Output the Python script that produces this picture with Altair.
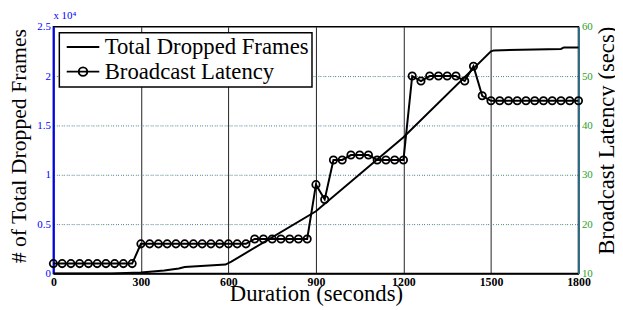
import altair as alt
import pandas as pd

# ---- data ----
frames_t = [0, 200, 300, 380, 430, 450, 590, 610, 900, 1200, 1500, 1510, 1740, 1750, 1800]
frames_v = [0, 0, 100, 300, 500, 650, 900, 1200, 6300, 13800, 22500, 22600, 22750, 22900, 22900]

lat_t = list(range(0, 1801, 30))
lat_v = ([12] * 10 + [16] * 13 + [17] * 7 +
         [28, 25, 33, 33, 34, 34, 34, 33, 33, 33, 33, 50, 49, 50, 50, 50, 50, 49, 52, 46] +
         [45] * 11)

series = ["Total Dropped Frames", "Broadcast Latency"]
x_ticks = [0, 300, 600, 900, 1200, 1500, 1800]
left_ticks = [0, 5000, 10000, 15000, 20000, 25000]
right_ticks = [10, 20, 30, 40, 50, 60]

frames_df = pd.DataFrame({"t": frames_t, "frames": frames_v})
lat_df = pd.DataFrame({"t": lat_t, "lat": lat_v})
leg_df = pd.DataFrame({"series": series})

FONT = "Times New Roman, Liberation Serif, DejaVu Serif, serif"
TSIZE = 23

xenc = alt.X(
    "t:Q",
    scale=alt.Scale(domain=[0, 1800], nice=False),
    axis=alt.Axis(
        values=x_ticks, format="d", labelFont=FONT, labelFontSize=12, labelFontWeight="bold",
        labelColor="black", labelPadding=3, labelFlush=False,
        domainColor="black", domainWidth=1.5, ticks=False,
        grid=True, gridColor="#222222", gridWidth=1,
        gridOpacity={"condition": {"test": "datum.value == 0 || datum.value == 1800", "value": 0}, "value": 1},
        title="Duration (seconds)", titleFont=FONT, titleFontSize=TSIZE, titleFontWeight="normal",
        titleColor="black", titleY=27.5, titleBaseline="alphabetic",
    ),
)

left_axis = alt.Axis(
    values=left_ticks, labelExpr="datum.value / 10000", labelFont=FONT, labelFontSize=11,
    labelColor="blue", labelPadding=3, labelFlush=False,
    domainColor="blue", domainWidth=2, ticks=False,
    grid=True, gridColor="#5060d0", gridDash=[1, 4], gridWidth=1,
    gridOpacity={"condition": {"test": "datum.value == 0 || datum.value == 25000", "value": 0}, "value": 1},
    title="# of Total Dropped Frames", titleFont=FONT, titleFontSize=22, titleFontWeight="normal",
    titleColor="black", titlePadding=7, titleY=120.5,
)

right_axis = alt.Axis(
    orient="right", values=right_ticks, labelFont=FONT, labelFontSize=11,
    labelColor="#2ca02c", labelPadding=3, labelFlush=False,
    domainColor="#2b6a80", domainWidth=2, ticks=False,
    grid=True, gridColor="#40a040", gridDash=[1, 4], gridDashOffset=2, gridWidth=1,
    gridOpacity={"condition": {"test": "datum.value == 10 || datum.value == 60", "value": 0}, "value": 1},
    title="Broadcast Latency (secs)", titleFont=FONT, titleFontSize=TSIZE, titleFontWeight="normal",
    titleColor="black", titleAngle=270, titleBaseline="top", titlePadding=3, titleY=115,
)

frames_line = alt.Chart(frames_df).mark_line(color="black", strokeWidth=2).encode(
    x=xenc,
    y=alt.Y("frames:Q", scale=alt.Scale(domain=[0, 25000], nice=False), axis=left_axis),
)

lat_y = alt.Y("lat:Q", scale=alt.Scale(domain=[10, 60], nice=False), axis=right_axis)

lat_line = alt.Chart(lat_df).mark_line(color="black", strokeWidth=2).encode(x=xenc, y=lat_y)
lat_pts = alt.Chart(lat_df).mark_point(
    shape="circle", size=55, color="black", filled=False, strokeWidth=1.8, opacity=1
).encode(x=xenc, y=lat_y)

line_path = "M-1.65,0L1.65,0"
circ_path = "M-1.65,0L1.65,0M0.43,0A0.43,0.43 0 1,1 -0.43,0A0.43,0.43 0 1,1 0.43,0"

legend_layer = alt.Chart(leg_df).mark_point(
    opacity=0, color="black", filled=False, strokeWidth=2
).encode(
    shape=alt.Shape(
        "series:N",
        scale=alt.Scale(domain=series, range=[line_path, circ_path]),
        legend=alt.Legend(
            orient="top-left", offset=6, title=None,
            labelFont=FONT, labelFontSize=TSIZE, labelColor="black", labelLimit=0,
            symbolSize=400, symbolStrokeWidth=2, symbolStrokeColor="black",
            symbolFillColor="transparent", symbolOffset=9.5, labelOffset=10.5,
            rowPadding=1, padding=3, strokeColor="black", fillColor="white",
        ),
    )
)

chart = alt.layer(
    frames_line,
    alt.layer(lat_line, lat_pts, legend_layer),
).resolve_scale(y="independent").properties(
    width=532,
    height=250,
    autosize="none",
    padding={"left": 46, "top": 17, "right": 37, "bottom": 32},
    title=alt.TitleParams(
        text="x 10⁴", anchor="start", frame="group", fontSize=11, color="blue",
        font=FONT, fontWeight="normal", offset=0,
    ),
).configure_view(stroke="black", strokeWidth=1.5).configure_legend(
    strokeWidth=1.5
)

chart.save("out.html", embed_options={"renderer": "svg", "actions": False})
